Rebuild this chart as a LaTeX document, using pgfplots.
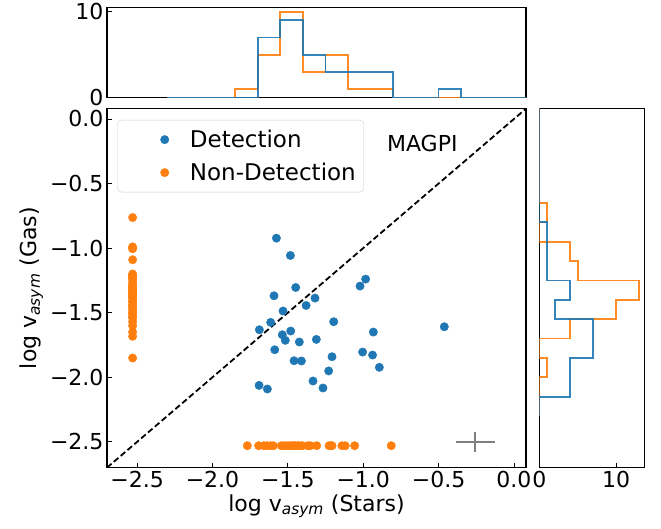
\documentclass[border=0pt]{standalone}
\usepackage{fontspec}
\setmainfont{DejaVu Sans}
\usepackage{pgfplots}
\pgfplotsset{compat=1.18}
\definecolor{mblue}{HTML}{1F77B4}
\definecolor{morange}{HTML}{FF7F0E}
\newcommand{\fs}{\fontsize{22}{26}\selectfont}

\begin{document}
\begin{tikzpicture}
\pgfplotsset{
  every axis/.append style={
    scale only axis,
    font=\fs,
    axis line style={line width=1.2pt},
    tick align=inside,
    major tick length=5pt,
    every tick/.style={black, line width=0.8pt},
  },
}

% ---------------- main scatter ----------------
\begin{axis}[
  name=main,
  at={(0pt,0pt)}, anchor=south west,
  width=419pt, height=359pt,
  xmin=-2.7, xmax=0.08, ymin=-2.7, ymax=0.08,
  xtick={-2.5,-2,-1.5,-1,-0.5,0},
  xticklabels={−2.5,−2.0,−1.5,−1.0,−0.5,0.0},
  ytick={-2.5,-2,-1.5,-1,-0.5,0},
  yticklabels={−2.5,−2.0,−1.5,−1.0,−0.5,0.0},
  xtick pos=lower, ytick pos=left,
  xlabel={log v\textsubscript{\itshape asym} (Stars)},
  ylabel={log v\textsubscript{\itshape asym} (Gas)},
  legend style={at={(0.0246,0.9685)}, anchor=north west,
    draw=black!20, rounded corners=4pt, fill=white,
    inner xsep=6pt, inner ysep=8pt, row sep=10pt,
    font=\fontsize{23}{27}\selectfont},
  legend cell align=left,
  legend image code/.code={\path (0pt,0pt) (64pt,0pt); \draw[#1] plot coordinates {(41pt,0pt)};},
]
\addplot[black, line width=1.8pt, dash pattern=on 6pt off 3pt, forget plot]
  coordinates {(-2.7,-2.7) (0.08,0.08)};
\addplot[gray, line width=1.5pt, forget plot] coordinates {(-0.387,-2.5) (-0.127,-2.5)};
\addplot[gray, line width=1.5pt, forget plot] coordinates {(-0.257,-2.577) (-0.257,-2.423)};

\addplot[only marks, mark=*, mark size=4.2pt, mark options={draw=mblue, fill=mblue}] coordinates {
(-1.576,-0.923) (-1.483,-1.057) (-0.984,-1.240) (-1.021,-1.294) (-1.448,-1.305)
(-1.592,-1.369) (-1.320,-1.387) (-1.379,-1.444) (-1.532,-1.487) (-1.614,-1.575)
(-1.196,-1.570) (-1.689,-1.632) (-1.481,-1.642) (-0.462,-1.609) (-1.537,-1.671)
(-0.933,-1.650) (-1.517,-1.714) (-1.424,-1.727) (-1.311,-1.707) (-1.587,-1.787)
(-1.004,-1.805) (-1.207,-1.841) (-0.938,-1.828) (-1.459,-1.872) (-1.410,-1.874)
(-0.893,-1.923) (-1.229,-1.951) (-1.333,-2.029) (-1.691,-2.063) (-1.636,-2.091)
(-1.267,-2.083)
};
\addlegendentry{Detection}

\addplot[only marks, mark=*, mark size=4.2pt, mark options={draw=morange, fill=morange}] coordinates {
(-2.53,-0.763)
(-2.53,-0.99) (-2.53,-1.00) (-2.53,-1.005) (-2.53,-1.09)
(-2.53,-1.20) (-2.53,-1.21) (-2.53,-1.22) (-2.53,-1.23) (-2.53,-1.24)
(-2.53,-1.26) (-2.53,-1.28) (-2.53,-1.29) (-2.53,-1.30) (-2.53,-1.31) (-2.53,-1.32)
(-2.53,-1.33) (-2.53,-1.34) (-2.53,-1.35) (-2.53,-1.36) (-2.53,-1.37) (-2.53,-1.38) (-2.53,-1.39)
(-2.53,-1.41) (-2.53,-1.42) (-2.53,-1.44) (-2.53,-1.45) (-2.53,-1.46)
(-2.53,-1.48) (-2.53,-1.50) (-2.53,-1.51) (-2.53,-1.53) (-2.53,-1.54)
(-2.53,-1.57) (-2.53,-1.60) (-2.53,-1.65) (-2.53,-1.683)
(-2.53,-1.851)
(-1.769,-2.53)
(-1.694,-2.53) (-1.660,-2.53) (-1.640,-2.53) (-1.615,-2.53) (-1.596,-2.53)
(-1.543,-2.53) (-1.525,-2.53) (-1.505,-2.53) (-1.490,-2.53) (-1.472,-2.53)
(-1.460,-2.53) (-1.450,-2.53) (-1.435,-2.53) (-1.422,-2.53) (-1.404,-2.53)
(-1.369,-2.53) (-1.350,-2.53) (-1.309,-2.53)
(-1.227,-2.53) (-1.215,-2.53) (-1.207,-2.53) (-1.141,-2.53) (-1.119,-2.53)
(-1.057,-2.53)
(-0.814,-2.53)
};
\addlegendentry{Non-Detection}

\node[font=\fs] at (axis cs:-0.608,-0.186) {MAGPI};
\end{axis}

% ---------------- top histogram ----------------
\begin{axis}[
  at={(0pt,370pt)}, anchor=south west,
  width=419pt, height=90.3pt,
  xmin=-2.7, xmax=0.08, ymin=0, ymax=10.5,
  xtick=\empty, ytick={0,10}, yticklabels={0,10}, ytick pos=left,
]
\addplot[morange, line width=1.8pt, opacity=0.9] coordinates {
(-2.30,0) (-1.85,0) (-1.85,1) (-1.70,1) (-1.70,5) (-1.55,5) (-1.55,10) (-1.40,10)
(-1.40,3) (-1.25,3) (-1.25,5) (-1.10,5) (-1.10,1) (-0.80,1) (-0.80,0) (0.10,0)};
\addplot[mblue, line width=1.8pt, opacity=0.9] coordinates {
(-2.30,0) (-1.70,0) (-1.70,7) (-1.55,7) (-1.55,9) (-1.40,9) (-1.40,5) (-1.25,5)
(-1.25,3) (-0.80,3) (-0.80,0) (-0.50,0) (-0.50,1) (-0.35,1) (-0.35,0) (0.10,0)};
\end{axis}

% ---------------- right histogram ----------------
\begin{axis}[
  at={(432.3pt,0pt)}, anchor=south west,
  width=105pt, height=359pt,
  xmin=0, xmax=13.65, ymin=-2.7, ymax=0.08,
  ytick=\empty, xtick={0,10}, xticklabels={0,10}, xtick pos=lower,
]
\addplot[morange, line width=1.8pt, opacity=0.9] coordinates {
(0,-2.30) (0,-2.00) (1,-2.00) (1,-1.85) (0,-1.85) (0,-1.70) (4,-1.70) (4,-1.55)
(10,-1.55) (10,-1.40) (13,-1.40) (13,-1.25) (5,-1.25) (5,-1.10) (4,-1.10) (4,-0.95)
(0,-0.95) (0,-0.80) (1,-0.80) (1,-0.65) (0,-0.65) (0,0.10)};
\addplot[mblue, line width=1.8pt, opacity=0.9] coordinates {
(0,-2.30) (0,-2.15) (4,-2.15) (4,-1.85) (7,-1.85) (7,-1.55) (2,-1.55) (2,-1.40)
(4,-1.40) (4,-1.25) (1,-1.25) (1,-0.80) (0,-0.80) (0,0.10)};
\end{axis}

\path (-107pt,-61pt) rectangle (554pt,467pt);
\end{tikzpicture}
\end{document}
